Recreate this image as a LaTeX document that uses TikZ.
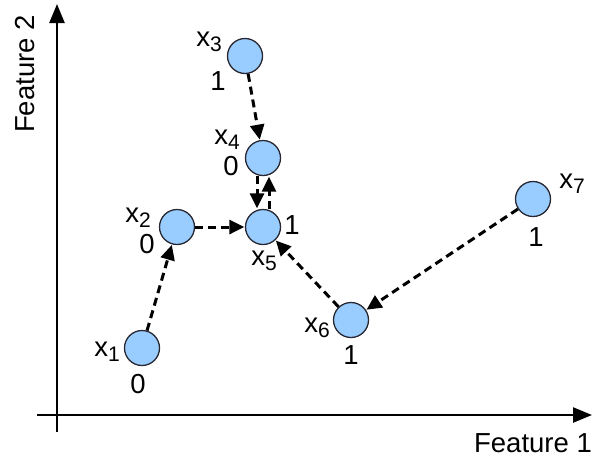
\documentclass[tikz,border=0pt]{standalone}
\usepackage{fontspec}
\setmainfont{Liberation Sans}
\usetikzlibrary{arrows.meta}
\definecolor{ptfill}{RGB}{153,204,255}
\definecolor{ptline}{RGB}{40,40,50}
\tikzset{
  pt/.style={circle, draw=ptline, line width=1.3pt, fill=ptfill, minimum size=35pt, inner sep=0pt},
  lbl/.style={font=\fontsize{27.5}{31}\selectfont, inner sep=0pt},
  link/.style={line width=3pt, dash pattern=on 8pt off 5pt, -{Triangle[length=15pt,width=14pt]}, shorten >=0.5pt},
  axis/.style={line width=2.4pt, -{Triangle[length=19pt,width=15pt]}}
}
\newcommand{\xs}[1]{x\raisebox{-0.35ex}{\fontsize{21}{23}\selectfont #1}}
\begin{document}
\begin{tikzpicture}[x=1pt,y=-1pt]
\useasboundingbox (0,0) rectangle (593,459);
% axes
\coordinate (ybot) at (57,432);
\coordinate (ytop) at (57,4);
\coordinate (xl) at (37,415);
\coordinate (xr) at (592,415);
\draw[axis] (ybot) -- (ytop);
\draw[axis] (xl) -- (xr);
\node[lbl, rotate=90] (f2) at (25,74) {Feature 2};
\node[lbl] (f1) at (533,443) {Feature 1};
% points
\node[pt] (p1) at (142,348) {};
\node[pt] (p2) at (177,227) {};
\node[pt] (p3) at (245,56) {};
\node[pt] (p4) at (263,158) {};
\node[pt] (p5) at (263,227) {};
\node[pt] (p6) at (351,320) {};
\node[pt] (p7) at (533,199) {};
% labels
\node[lbl] (l1) at (107,352) {\xs{1}};
\node[lbl] (c1) at (138,384) {0};
\node[lbl] (l2) at (138,218) {\xs{2}};
\node[lbl] (c2) at (147,244) {0};
\node[lbl] (l3) at (209,42) {\xs{3}};
\node[lbl] (c3) at (218,81) {1};
\node[lbl] (l4) at (227,140) {\xs{4}};
\node[lbl] (c4) at (231,166) {0};
\node[lbl] (c5) at (292,225) {1};
\node[lbl] (l5) at (264,261) {\xs{5}};
\node[lbl] (l6) at (317,328) {\xs{6}};
\node[lbl] (c6) at (351,355) {1};
\node[lbl] (l7) at (572,184) {\xs{7}};
\node[lbl] (c7) at (536,237) {1};
% links
\draw[link] (p1) -- (p2);
\draw[link] (p2) -- (p5);
\draw[link] (p3) -- (p4);
\draw[link] ([xshift=-6pt]p4.south) -- ([xshift=-6pt]p5.north);
\draw[link] ([xshift=6pt]p5.north) -- ([xshift=6pt]p4.south);
\draw[link] (p6) -- (p5);
\draw[link] (p7) -- (p6);
\end{tikzpicture}
\end{document}
